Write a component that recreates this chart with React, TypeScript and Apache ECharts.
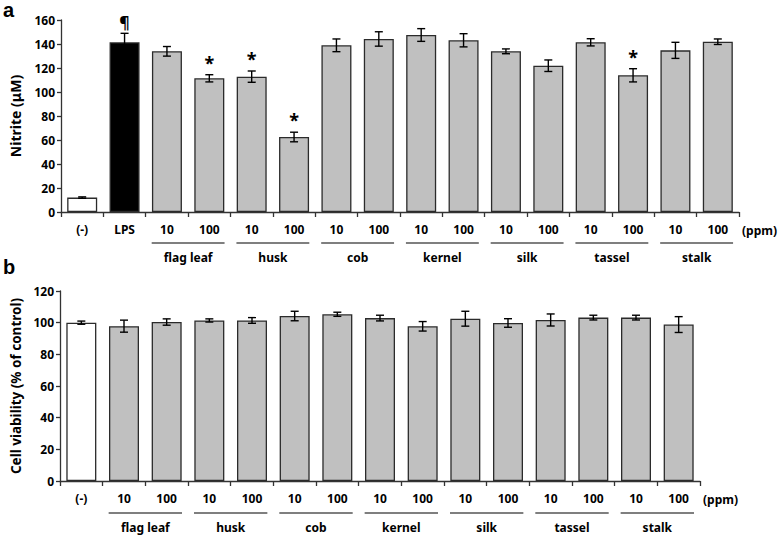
import React, { useEffect, useRef } from "react";
import * as echarts from "echarts";

const topCats = ["(-)", "LPS", "10", "100", "10", "100", "10", "100", "10", "100", "10", "100", "10", "100", "10", "100"];
const topValues = [12, 141.4, 133.9, 111.4, 112.8, 62.5, 138.9, 144.2, 147.5, 143.1, 133.9, 121.9, 141.4, 113.9, 134.7, 141.9];
const topErrors = [0.6, 7.5, 4, 3, 4.7, 4, 5.3, 6, 5.3, 5.5, 2, 4.8, 3, 5.5, 6.7, 2.3];
const topMarks = ["", "¶", "", "*", "*", "*", "", "", "", "", "", "", "", "*", "", ""];

const botCats = ["(-)", "10", "100", "10", "100", "10", "100", "10", "100", "10", "100", "10", "100", "10", "100"];
const botValues = [100, 97.8, 100.4, 101.4, 101.4, 104.2, 105.3, 102.9, 97.7, 102.5, 99.8, 101.7, 103.2, 103.2, 98.8];
const botErrors = [1, 3.8, 2, 1, 1.8, 3, 1.3, 1.8, 3, 4.7, 2.7, 3.8, 1.5, 1.5, 5];

const groupNames = ["flag leaf", "husk", "cob", "kernel", "silk", "tassel", "stalk"];
const topGroupStart = [2, 4, 6, 8, 10, 12, 14];
const botGroupStart = [1, 3, 5, 7, 9, 11, 13];

const FONT = "'Noto Sans', 'DejaVu Sans', sans-serif";
const GRAY = "#c0c0c0";
const EDGE = "#2b2b2b";

function barColor(idx: number, isTop: boolean) {
  if (idx === 0) return "#ffffff";
  if (isTop && idx === 1) return "#000000";
  return GRAY;
}

export default function App() {
  const ref = useRef<HTMLDivElement>(null);
  useEffect(() => {
    if (!ref.current) return;
    const chart = echarts.init(ref.current, null, { renderer: "svg" });

    const axisText = { color: "#000", fontFamily: FONT, fontWeight: "bold" as const, fontSize: 12 };

    const errorSeries = (xi: number, errs: number[], marks: string[] | null, vals: number[]) => ({
      type: "custom",
      xAxisIndex: xi,
      yAxisIndex: xi,
      clip: false,
      z: 5,
      data: vals.map((v, i) => [i, v - errs[i], v + errs[i]]),
      encode: { x: 0, y: [1, 2] },
      renderItem: (params: any, api: any) => {
        const i = api.value(0);
        const lo = api.coord([i, api.value(1)]);
        const hi = api.coord([i, api.value(2)]);
        const cw = 4;
        const st = { stroke: "#000", lineWidth: 1.4 };
        const children: any[] = [
          { type: "line", shape: { x1: lo[0], y1: lo[1], x2: hi[0], y2: hi[1] }, style: st },
          { type: "line", shape: { x1: lo[0] - cw, y1: lo[1], x2: lo[0] + cw, y2: lo[1] }, style: st },
          { type: "line", shape: { x1: hi[0] - cw, y1: hi[1], x2: hi[0] + cw, y2: hi[1] }, style: st },
        ];
        const m = marks ? marks[params.dataIndex] : "";
        if (m) {
          children.push({
            type: "text",
            x: hi[0],
            y: hi[1] - 3,
            style: {
              text: m,
              fill: "#000",
              font: `bold ${m === "*" ? 18 : 16}px ${FONT}`,
              align: "center",
              verticalAlign: "bottom",
            },
          });
        }
        return { type: "group", children };
      },
    });

    const groupSeries = (xi: number, starts: number[], lineOff: number, textOff: number) => ({
      type: "custom",
      xAxisIndex: xi,
      yAxisIndex: xi,
      clip: false,
      silent: true,
      data: starts.map((s) => [s, 0, s + 1]),
      encode: { x: [0, 2], y: 1 },
      renderItem: (params: any, api: any) => {
        const a = api.coord([api.value(0), 0]);
        const b = api.coord([api.value(2), 0]);
        const bw = api.size([1, 0])[0];
        const x1 = a[0] - bw * 0.36;
        const x2 = b[0] + bw * 0.36;
        const y = a[1] + lineOff;
        return {
          type: "group",
          children: [
            { type: "line", shape: { x1, y1: y, x2, y2: y }, style: { stroke: "#555", lineWidth: 1.3 } },
            {
              type: "text",
              x: (a[0] + b[0]) / 2,
              y: a[1] + textOff,
              style: {
                text: groupNames[params.dataIndex],
                fill: "#000",
                font: `bold 12px ${FONT}`,
                align: "center",
                verticalAlign: "middle",
              },
            },
          ],
        };
      },
    });

    const xAxisBase = {
      type: "category",
      axisLine: { lineStyle: { color: "#333", width: 1.3 } },
      axisTick: { show: true, length: 5, lineStyle: { color: "#333", width: 1.3 } },
      axisLabel: { ...axisText, margin: 11, interval: 0 },
      name: "(ppm)",
      nameLocation: "end",
      nameGap: 3,
      nameTextStyle: { ...axisText, verticalAlign: "top", padding: [12, 0, 0, 0] },
    };
    const yAxisBase = {
      type: "value",
      min: 0,
      interval: 20,
      axisLine: { show: true, lineStyle: { color: "#333", width: 1.3 } },
      axisTick: { show: true, length: 4, lineStyle: { color: "#333", width: 1.3 } },
      axisLabel: { ...axisText, margin: 6 },
      splitLine: { show: false },
      nameLocation: "middle",
      nameRotate: 90,
    };

    chart.setOption({
      animation: false,
      backgroundColor: "#fff",
      grid: [
        { left: 60, top: 20, width: 683, height: 192 },
        { left: 60, top: 291, width: 640, height: 190 },
      ],
      xAxis: [
        { ...xAxisBase, gridIndex: 0, data: topCats },
        { ...xAxisBase, gridIndex: 1, data: botCats },
      ],
      yAxis: [
        { ...yAxisBase, gridIndex: 0, max: 160, name: "Nitrite (μM)", nameGap: 39, nameTextStyle: { ...axisText, fontSize: 14 } },
        { ...yAxisBase, gridIndex: 1, max: 120, name: "Cell viability (% of control)", nameGap: 37, nameTextStyle: { ...axisText, fontSize: 13.5 } },
      ],
      graphic: [
        { type: "text", left: 3, top: 0, style: { text: "a", font: `bold 20px 'Liberation Sans', Arial, sans-serif`, fill: "#000" } },
        { type: "text", left: 3, top: 257, style: { text: "b", font: `bold 20px 'Liberation Sans', Arial, sans-serif`, fill: "#000" } },
      ],
      series: [
        {
          type: "bar",
          xAxisIndex: 0,
          yAxisIndex: 0,
          barWidth: 30,
          data: topValues.map((v, i) => ({
            value: v,
            itemStyle: { color: barColor(i, true), borderColor: EDGE, borderWidth: 1.3 },
          })),
        },
        errorSeries(0, topErrors, topMarks, topValues),
        groupSeries(0, topGroupStart, 31, 45),
        {
          type: "bar",
          xAxisIndex: 1,
          yAxisIndex: 1,
          barWidth: 30,
          data: botValues.map((v, i) => ({
            value: v,
            itemStyle: { color: barColor(i, false), borderColor: EDGE, borderWidth: 1.3 },
          })),
        },
        errorSeries(1, botErrors, null, botValues),
        groupSeries(1, botGroupStart, 32, 46),
      ],
    });
    return () => chart.dispose();
  }, []);
  return <div ref={ref} style={{ position: "fixed", left: 0, top: 0, width: 778, height: 535 }} />;
}
